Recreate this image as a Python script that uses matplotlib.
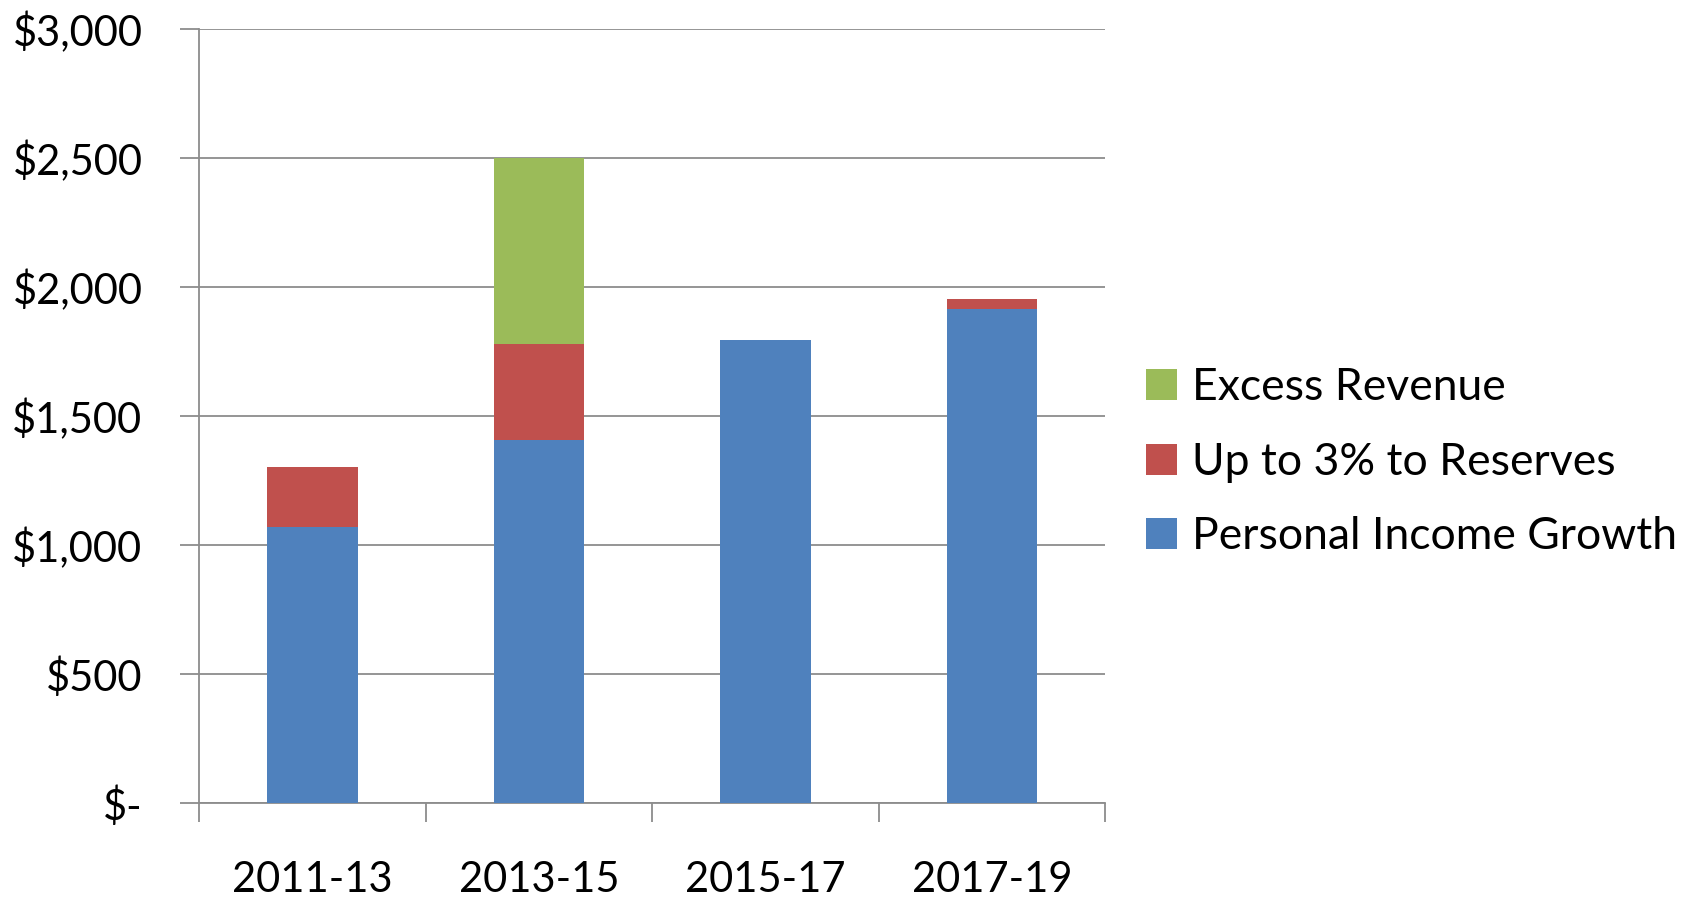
import numpy as np
import matplotlib.pyplot as plt
from matplotlib.ticker import FuncFormatter, FixedLocator

# 데이터
periods = ['2011-13', '2013-15', '2015-17', '2017-19']
personal_income = [1070, 1405, 1795, 1915]
reserves = [230, 373, 0, 38]
excess = [0, 722, 0, 0]

plt.rcParams['font.family'] = ['Lato', 'DejaVu Sans']

fig = plt.figure(figsize=(16.9, 9), dpi=100)
ax = fig.add_axes([0.118, 0.108, 0.536, 0.860])

x = np.arange(len(periods))
w = 0.4
b1 = ax.bar(x, personal_income, w, color='#4F81BD', label='Personal Income Growth', zorder=3)
b2 = ax.bar(x, reserves, w, bottom=personal_income, color='#C0504D', label='Up to 3% to Reserves', zorder=3)
bottom2 = np.array(personal_income) + np.array(reserves)
b3 = ax.bar(x, excess, w, bottom=bottom2, color='#9BBB59', label='Excess Revenue', zorder=3)

ax.set_xlim(-0.5, 3.5)
ax.set_ylim(0, 3000)
ax.set_yticks(np.arange(0, 3001, 500))
ax.yaxis.set_major_formatter(FuncFormatter(lambda v, p: '$-' if v == 0 else f'${v:,.0f}'))
ax.set_xticks(x)
ax.set_xticklabels(periods)
ax.xaxis.set_minor_locator(FixedLocator([-0.5, 0.5, 1.5, 2.5, 3.5]))

ax.grid(axis='y', color='#8C8C8C', linewidth=1.3, zorder=0)
for s in ['top', 'right']:
    ax.spines[s].set_visible(False)
for s in ['left', 'bottom']:
    ax.spines[s].set_color('#8C8C8C')
    ax.spines[s].set_linewidth(1.3)

ax.tick_params(axis='y', length=14, width=1.3, color='#8C8C8C', pad=27, labelsize=30)
ax.tick_params(axis='x', which='major', length=0, pad=42, labelsize=30)
ax.tick_params(axis='x', which='minor', length=14, width=1.3, color='#8C8C8C')

handles = [b3, b2, b1]
ax.legend(handles=handles, labels=[h.get_label() for h in handles],
          loc='center left', bbox_to_anchor=(1.025, 0.44), frameon=False,
          fontsize=32, handlelength=0.7, handleheight=0.7, handletextpad=0.35,
          labelspacing=0.75, borderaxespad=0)

plt.savefig('out.png', dpi=100)
